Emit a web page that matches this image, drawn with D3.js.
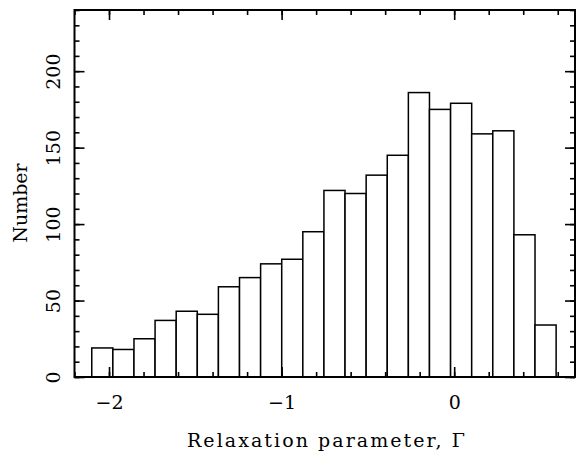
<!DOCTYPE html>
<html>
<head>
<meta charset="utf-8">
<script src="https://cdn.jsdelivr.net/npm/d3@7"></script>
<style>
  body { margin: 0; background: #fff; }
  text { font-family: "DejaVu Serif", "Liberation Serif", serif; fill: #000; }
</style>
</head>
<body>
<div id="chart"></div>
<script>
// histogram bins: first lower edge and bin width, then counts
const binStart = -2.1
const binWidth = 0.1223
const counts = [19, 18, 25, 37, 43, 41, 59, 65, 74, 77, 95, 122, 120, 132, 145, 186, 175, 179, 159, 161, 93, 34]
const xMajorTicks = [-2, -1, 0]
const yMajorTicks = [0, 50, 100, 150, 200]
const xTitle = "Relaxation parameter, \u0393"
const yTitle = "Number"

const bins = counts.map((c, i) => ({
  x0: binStart + i * binWidth,
  x1: binStart + (i + 1) * binWidth,
  count: c
}))

const dimensions = {
  width: 578,
  height: 451,
  margin: { top: 10, right: 3, bottom: 74, left: 74.5 }
}
dimensions.boundedWidth = dimensions.width - dimensions.margin.left - dimensions.margin.right
dimensions.boundedHeight = dimensions.height - dimensions.margin.top - dimensions.margin.bottom

const svg = d3.select("#chart")
  .append("svg")
    .attr("width", dimensions.width)
    .attr("height", dimensions.height)

const bounds = svg.append("g")
  .attr("transform", `translate(${dimensions.margin.left},${dimensions.margin.top})`)

const xScale = d3.scaleLinear()
  .domain([-2.2, 0.7])
  .range([0, dimensions.boundedWidth])

const yScale = d3.scaleLinear()
  .domain([0, 240])
  .range([dimensions.boundedHeight, 0])

// bars
bounds.selectAll("rect.bar")
  .data(bins)
  .join("rect")
    .attr("class", "bar")
    .attr("x", d => xScale(d.x0))
    .attr("width", d => xScale(d.x1) - xScale(d.x0))
    .attr("y", d => yScale(d.count))
    .attr("height", d => yScale(0) - yScale(d.count))
    .attr("fill", "white")
    .attr("stroke", "#000")
    .attr("stroke-width", 1.5)

// minor ticks
const xMinor = d3.range(-2.2, 0.71, 0.2).map(v => Math.round(v * 10) / 10)
const yMinor = d3.range(0, 241, 10)

const styleAxis = g => {
  g.select(".domain").remove()
  g.selectAll(".tick line").attr("stroke", "#000").attr("stroke-width", 1.6)
}

const h = dimensions.boundedHeight
const w = dimensions.boundedWidth

bounds.append("g").attr("transform", `translate(0,${h})`)
  .call(d3.axisBottom(xScale).tickValues(xMinor).tickSize(-5).tickFormat(""))
  .call(styleAxis)
bounds.append("g")
  .call(d3.axisTop(xScale).tickValues(xMinor).tickSize(-5).tickFormat(""))
  .call(styleAxis)
bounds.append("g")
  .call(d3.axisLeft(yScale).tickValues(yMinor).tickSize(-5).tickFormat(""))
  .call(styleAxis)
bounds.append("g").attr("transform", `translate(${w},0)`)
  .call(d3.axisRight(yScale).tickValues(yMinor).tickSize(-5).tickFormat(""))
  .call(styleAxis)

// major ticks with labels
bounds.append("g").attr("transform", `translate(0,${h})`)
  .call(d3.axisBottom(xScale).tickValues(xMajorTicks).tickSize(-10).tickPadding(19)
    .tickFormat(d => d < 0 ? "\u2212" + Math.abs(d) : d))
  .call(styleAxis)
  .call(g => g.selectAll("text").attr("font-size", 19).attr("font-family", "DejaVu Serif"))
bounds.append("g")
  .call(d3.axisTop(xScale).tickValues(xMajorTicks).tickSize(-10).tickFormat(""))
  .call(styleAxis)

const yAxis = bounds.append("g")
  .call(d3.axisLeft(yScale).tickValues(yMajorTicks).tickSize(-10).tickFormat(""))
  .call(styleAxis)
yAxis.selectAll(".tick")
  .append("text")
    .attr("transform", "translate(-15,0) rotate(-90)")
    .attr("text-anchor", "middle")
    .attr("font-size", 19)
    .attr("font-family", "DejaVu Serif")
    .attr("fill", "#000")
    .text(d => d)
bounds.append("g").attr("transform", `translate(${w},0)`)
  .call(d3.axisRight(yScale).tickValues(yMajorTicks).tickSize(-10).tickFormat(""))
  .call(styleAxis)

// frame
bounds.append("rect")
  .attr("width", w)
  .attr("height", h)
  .attr("fill", "none")
  .attr("stroke", "#000")
  .attr("stroke-width", 2)

// titles
svg.append("text")
  .attr("x", 326)
  .attr("y", 447)
  .attr("text-anchor", "middle")
  .attr("font-size", 19)
  .attr("textLength", 278)
  .attr("lengthAdjust", "spacing")
  .text(xTitle)

svg.append("text")
  .attr("transform", "translate(27,203) rotate(-90)")
  .attr("text-anchor", "middle")
  .attr("font-size", 19)
  .text(yTitle)
</script>
</body>
</html>
